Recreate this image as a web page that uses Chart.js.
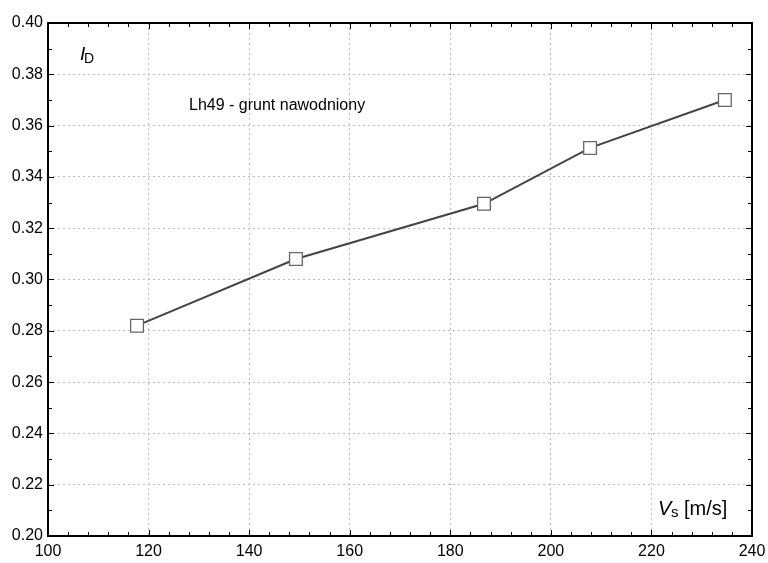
<!DOCTYPE html>
<html>
<head>
<meta charset="utf-8">
<script src="https://cdn.jsdelivr.net/npm/chart.js@4.4.1/dist/chart.umd.min.js"></script>
<style>
  html, body { margin: 0; padding: 0; background: #fff; }
  #wrap { width: 768px; height: 563px; }
</style>
</head>
<body>
<div id="wrap"><canvas id="chartCanvas" width="768" height="563"></canvas></div>
<script>
// Vs [m/s] vs relative density ID
const vsValues = [117.7, 149.3, 186.7, 207.8, 234.6];
const idValues = [0.282, 0.308, 0.3295, 0.3513, 0.370];
const xTicks = [100, 120, 140, 160, 180, 200, 220, 240];
const yTicks = [0.20, 0.22, 0.24, 0.26, 0.28, 0.30, 0.32, 0.34, 0.36, 0.38, 0.40];
const seriesLabel = 'Lh49 - grunt nawodniony';

const FONT = 'Arial, "Liberation Sans", sans-serif';

let points = vsValues.map((v, i) => ({ x: v, y: idValues[i] }));

// inward ticks on all four sides plus the frame and inside titles
const framePlugin = {
    id: 'frame',
    afterDraw(chart) {
        const ctx = chart.ctx;
        const a = chart.chartArea;
        const xs = chart.scales.x, ys = chart.scales.y;
        ctx.save();
        ctx.strokeStyle = '#000';
        ctx.lineWidth = 1;
        ctx.beginPath();
        for (let v = xs.min; v <= xs.max + 0.001; v += 4) {
            const px = Math.round(xs.getPixelForValue(v)) + 0.5;
            const len = (v % 20 === 0) ? 6 : 4;
            ctx.moveTo(px, a.bottom); ctx.lineTo(px, a.bottom - len);
            ctx.moveTo(px, a.top); ctx.lineTo(px, a.top + len);
        }
        for (let i = 0; i <= 20; i++) {
            const v = 0.20 + i * 0.01;
            const py = Math.round(ys.getPixelForValue(v)) + 0.5;
            const len = (i % 2 === 0) ? 6 : 4;
            ctx.moveTo(a.left, py); ctx.lineTo(a.left + len, py);
            ctx.moveTo(a.right, py); ctx.lineTo(a.right - len, py);
        }
        ctx.stroke();

        ctx.lineWidth = 2;
        ctx.strokeRect(a.left, a.top, a.right - a.left, a.bottom - a.top);

        ctx.fillStyle = '#000';
        ctx.textBaseline = 'alphabetic';
        ctx.textAlign = 'left';
        // y title: I with subscript D
        ctx.font = 'italic 19px ' + FONT;
        ctx.fillText('I', a.left + 32, a.top + 37);
        ctx.font = '14px ' + FONT;
        ctx.fillText('D', a.left + 36, a.top + 40);

        // x title: V with subscript s
        ctx.font = 'italic 20px ' + FONT;
        ctx.fillText('V', a.right - 94, a.bottom - 21);
        ctx.font = '15px ' + FONT;
        ctx.fillText('s', a.right - 81, a.bottom - 19);
        ctx.font = '20px ' + FONT;
        ctx.fillText('[m/s]', a.right - 68, a.bottom - 21);

        // series caption
        ctx.font = '16px ' + FONT;
        ctx.fillText(seriesLabel, a.left + 141, a.top + 87);
        ctx.restore();
    }
};

window.chart = new Chart('chartCanvas', {
    type: 'line',
    data: {
        datasets: [{
            label: seriesLabel,
            data: points,
            borderColor: '#444',
            borderWidth: 2,
            pointStyle: 'rect',
            pointRadius: 9,
            pointBackgroundColor: '#fff',
            pointBorderColor: '#666',
            pointBorderWidth: 1.3,
            tension: 0
        }]
    },
    options: {
        responsive: false,
        animation: false,
        devicePixelRatio: 1,
        layout: { padding: { top: 23, right: 16, left: 0, bottom: 0 } },
        plugins: {
            legend: { display: false },
            tooltip: { enabled: false }
        },
        scales: {
            x: {
                type: 'linear',
                min: 100,
                max: 240,
                afterBuildTicks: (s) => { s.ticks = xTicks.map(v => ({ value: v })); },
                afterFit: (s) => {
                    s.height = 27;
                    s.paddingLeft = 0;
                    s.paddingRight = 0;
                },
                ticks: {
                    color: '#000',
                    font: { family: FONT, size: 16 },
                    padding: 6,
                    maxRotation: 0
                },
                grid: {
                    color: '#bdbdbd',
                    lineWidth: 1,
                    drawTicks: false
                },
                border: { display: false, dash: [2, 3] }
            },
            y: {
                type: 'linear',
                min: 0.20,
                max: 0.40,
                afterBuildTicks: (s) => { s.ticks = yTicks.map(v => ({ value: v })); },
                afterFit: (s) => {
                    s.width = 48;
                    s.paddingTop = 0;
                    s.paddingBottom = 0;
                },
                ticks: {
                    color: '#000',
                    font: { family: FONT, size: 16 },
                    padding: 5,
                    callback: (v) => v.toFixed(2)
                },
                grid: {
                    color: '#bdbdbd',
                    lineWidth: 1,
                    drawTicks: false
                },
                border: { display: false, dash: [2, 3] }
            }
        }
    },
    plugins: [framePlugin]
});
</script>
</body>
</html>
